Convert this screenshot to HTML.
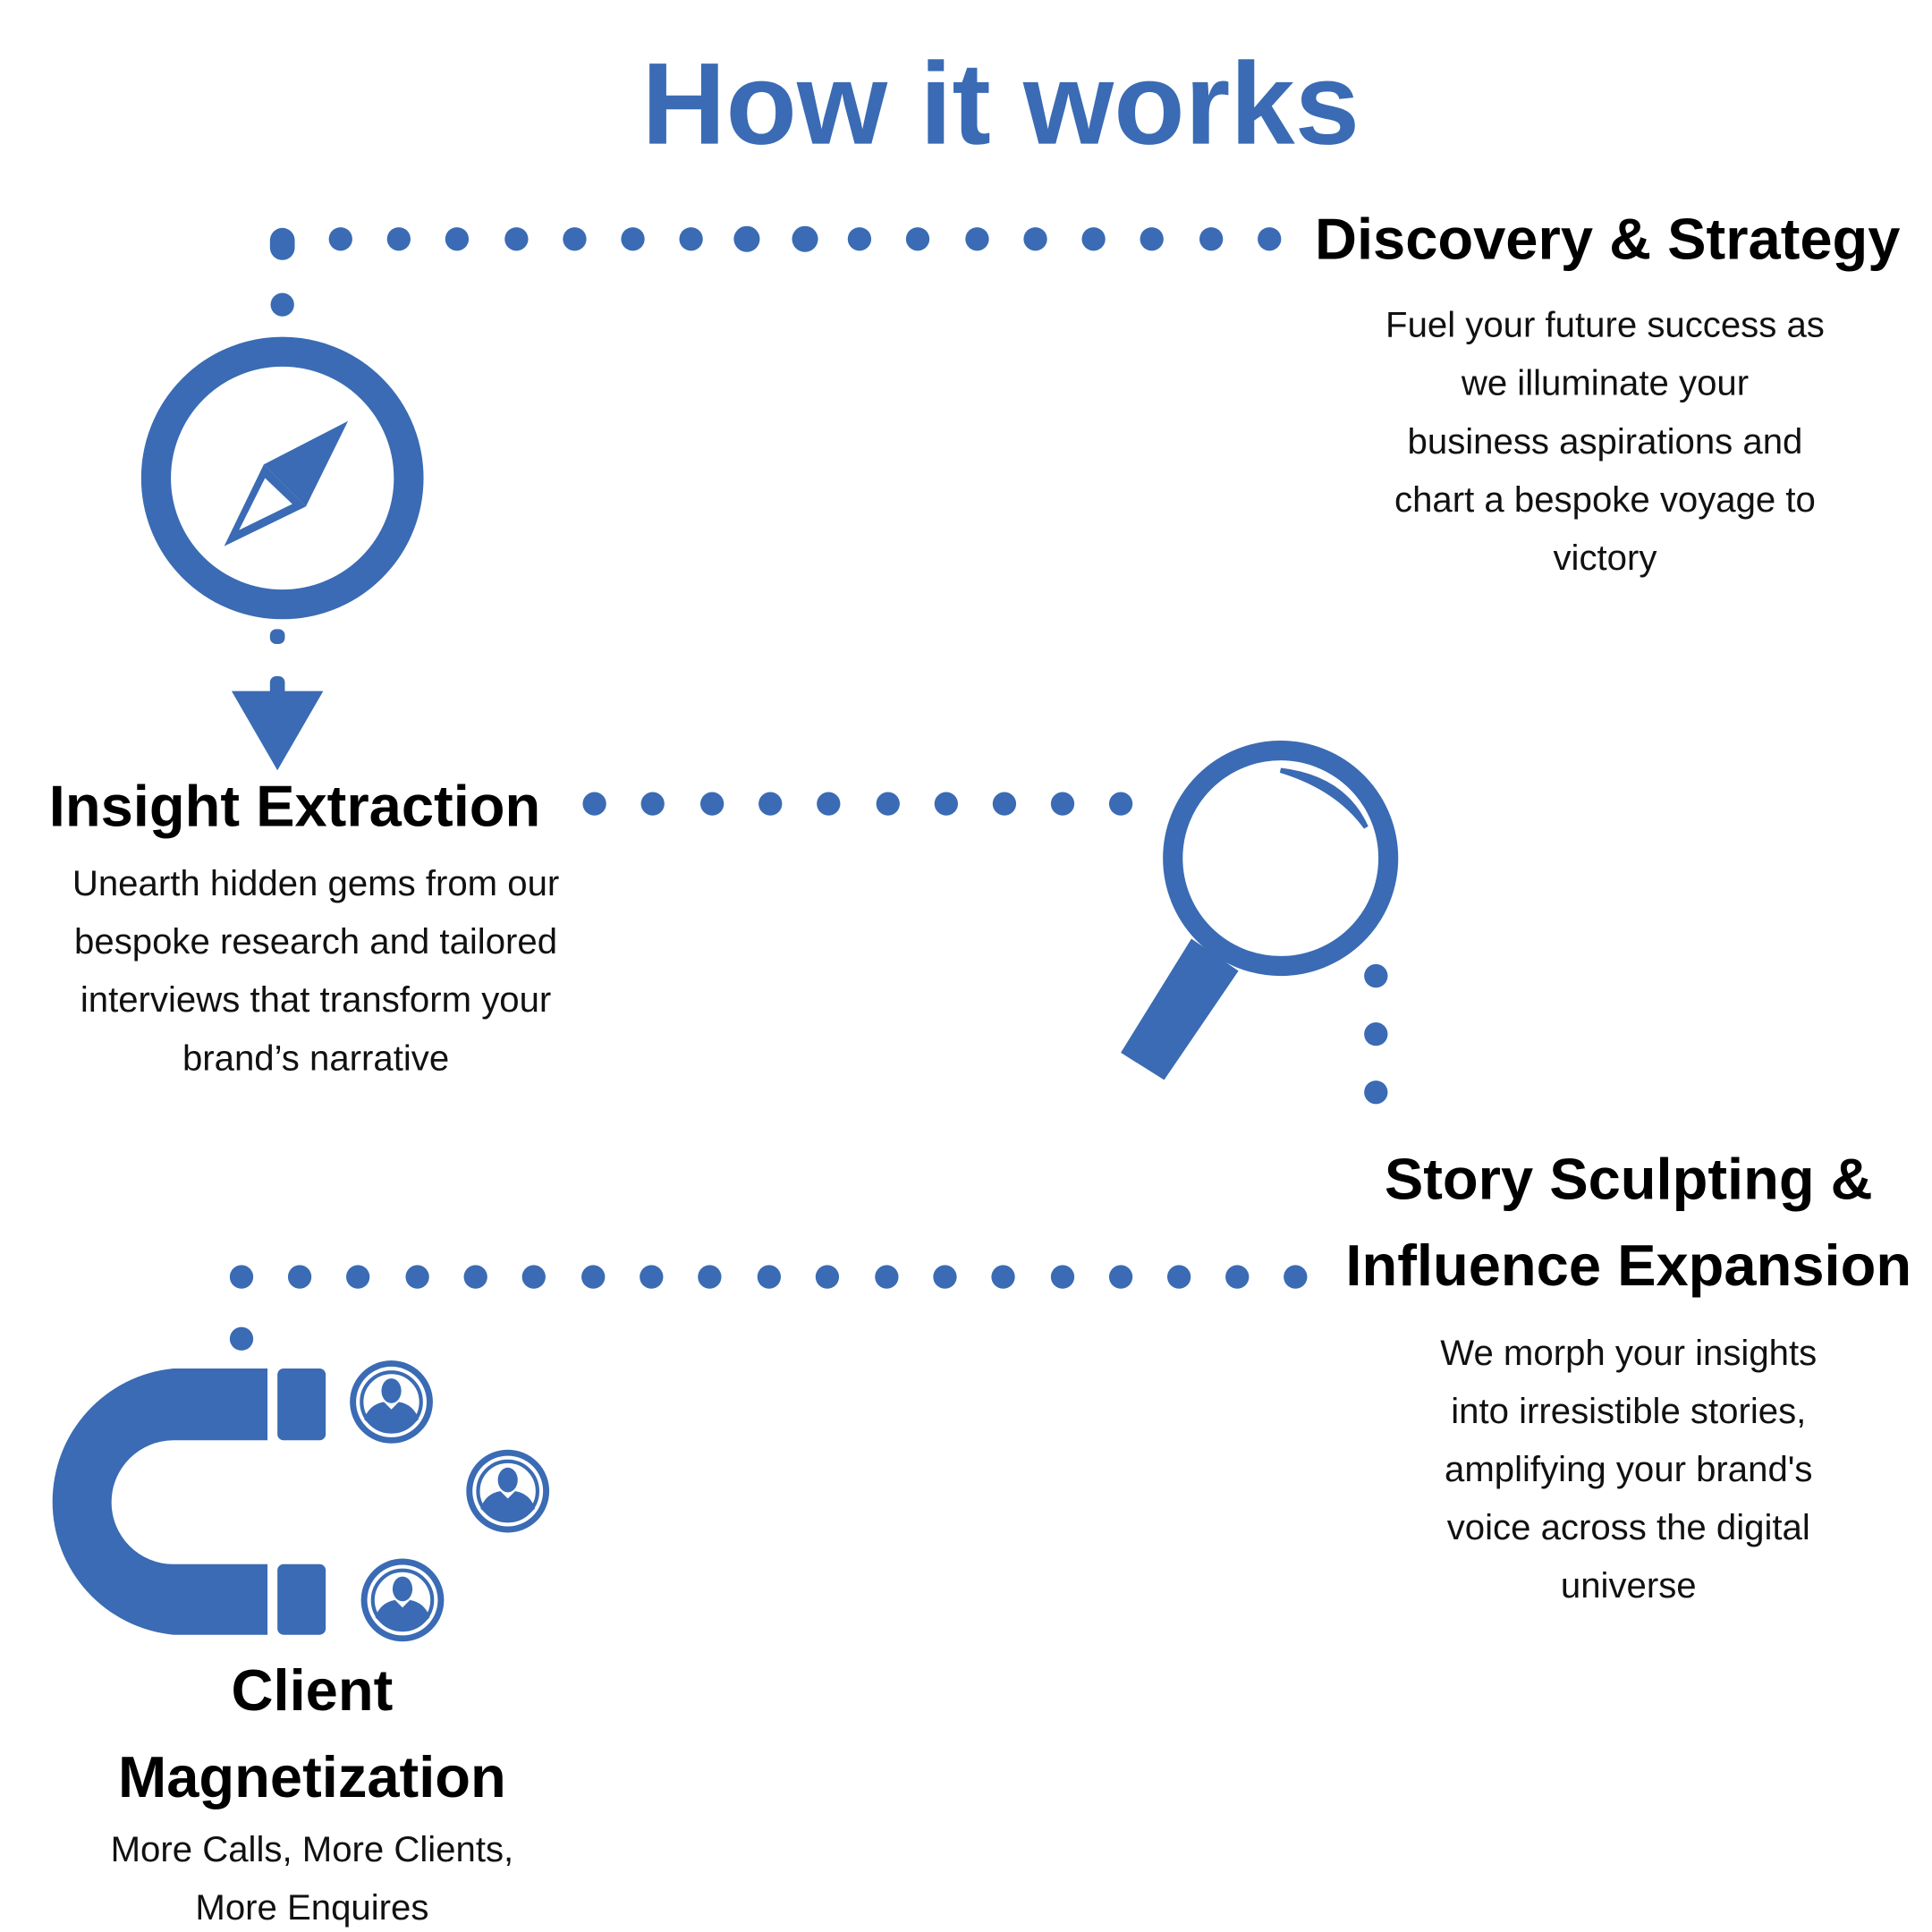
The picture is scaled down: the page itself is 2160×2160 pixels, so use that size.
<!DOCTYPE html>
<html><head><meta charset="utf-8"><style>
html,body{margin:0;padding:0;background:#fff}
svg{display:block}
text{font-family:"Liberation Sans",sans-serif}
.h{font-weight:bold;font-size:47px;fill:#000;text-anchor:middle}
.b{font-size:29px;fill:#111;text-anchor:middle}
</style></head><body>
<svg width="2160" height="2160" viewBox="0 0 1560 1560" xmlns="http://www.w3.org/2000/svg">
<defs>
<g id="p" fill="#3a6bb4">
<circle cx="0" cy="0" r="31" fill="none" stroke="#3a6bb4" stroke-width="5"/>
<circle cx="0" cy="0" r="24" fill="none" stroke="#3a6bb4" stroke-width="3"/>
<ellipse cx="0" cy="-9" rx="8" ry="10"/>
<path d="M-22,14 Q-18,2 -6,0 L0,6 L6,0 Q18,2 22,14 Q12,24 0,24 Q-12,24 -22,14Z"/>
</g>
</defs>
<text x="808" y="116" text-anchor="middle" font-size="94" font-weight="bold" fill="#3a6bb4">How it works</text>
<g fill="#3a6bb4">
<rect x="218" y="184" width="20" height="26" rx="10"/>
<circle cx="275" cy="193" r="9.5"/><circle cx="322" cy="193" r="9.5"/><circle cx="369" cy="193" r="9.5"/><circle cx="417" cy="193" r="9.5"/><circle cx="464" cy="193" r="9.5"/><circle cx="511" cy="193" r="9.5"/><circle cx="558" cy="193" r="9.5"/><circle cx="603" cy="193" r="10.5"/><circle cx="650" cy="193" r="10.5"/><circle cx="694" cy="193" r="9.5"/><circle cx="741" cy="193" r="9.5"/><circle cx="789" cy="193" r="9.5"/><circle cx="836" cy="193" r="9.5"/><circle cx="883" cy="193" r="9.5"/><circle cx="930" cy="193" r="9.5"/><circle cx="978" cy="193" r="9.5"/><circle cx="1025" cy="193" r="9.5"/>
<circle cx="228" cy="246" r="9.5"/>
<rect x="218" y="508" width="12" height="12" rx="5"/>
<rect x="218" y="546" width="12" height="20" rx="5"/>
<polygon points="187,558 261,558 224,622"/>
<circle cx="480" cy="649" r="9.5"/><circle cx="527" cy="649" r="9.5"/><circle cx="575" cy="649" r="9.5"/><circle cx="622" cy="649" r="9.5"/><circle cx="669" cy="649" r="9.5"/><circle cx="717" cy="649" r="9.5"/><circle cx="764" cy="649" r="9.5"/><circle cx="811" cy="649" r="9.5"/><circle cx="858" cy="649" r="9.5"/><circle cx="905" cy="649" r="9.5"/>
<circle cx="1111" cy="788" r="9.5"/><circle cx="1111" cy="835" r="9.5"/><circle cx="1111" cy="882" r="9.5"/>
<circle cx="195" cy="1031" r="9.5"/><circle cx="242" cy="1031" r="9.5"/><circle cx="289" cy="1031" r="9.5"/><circle cx="337" cy="1031" r="9.5"/><circle cx="384" cy="1031" r="9.5"/><circle cx="431" cy="1031" r="9.5"/><circle cx="479" cy="1031" r="9.5"/><circle cx="526" cy="1031" r="9.5"/><circle cx="573" cy="1031" r="9.5"/><circle cx="621" cy="1031" r="9.5"/><circle cx="668" cy="1031" r="9.5"/><circle cx="716" cy="1031" r="9.5"/><circle cx="763" cy="1031" r="9.5"/><circle cx="810" cy="1031" r="9.5"/><circle cx="858" cy="1031" r="9.5"/><circle cx="905" cy="1031" r="9.5"/><circle cx="952" cy="1031" r="9.5"/><circle cx="999" cy="1031" r="9.5"/><circle cx="1046" cy="1031" r="9.5"/>
<circle cx="195" cy="1081" r="9.5"/>
</g>
<circle cx="228" cy="386" r="102" fill="none" stroke="#3a6bb4" stroke-width="24"/>
<polygon points="281,340 213,375 247,409" fill="#3a6bb4"/>
<polygon points="213,375 181,441 247,409" fill="#3a6bb4"/>
<polygon points="214,386 193,428 236,407" fill="#fff"/>
<circle cx="1034" cy="693" r="87" fill="none" stroke="#3a6bb4" stroke-width="16"/>
<path d="M1034,622 Q1085,628 1103,668 Q1080,636 1034,622Z" fill="#3a6bb4" stroke="#3a6bb4" stroke-width="4"/>
<polygon points="962,758 1000,784 940,872 905,850" fill="#3a6bb4"/>
<path d="M216,1105 L140,1105 A108,108 0 0 0 140,1320 L216,1320 L216,1263 L140,1263 A50,50 0 0 1 140,1163 L216,1163 Z" fill="#3a6bb4"/>
<rect x="224" y="1105" width="39" height="58" rx="5" fill="#3a6bb4"/>
<rect x="224" y="1263" width="39" height="57" rx="5" fill="#3a6bb4"/>
<use href="#p" x="316" y="1132"/>
<use href="#p" x="410" y="1204"/>
<use href="#p" x="325" y="1292"/>
<text class="h" x="1298" y="209">Discovery &amp; Strategy</text>
<text class="b" x="1296" y="272">Fuel your future success as</text>
<text class="b" x="1296" y="319">we illuminate your</text>
<text class="b" x="1296" y="366">business aspirations and</text>
<text class="b" x="1296" y="413">chart a bespoke voyage to</text>
<text class="b" x="1296" y="460">victory</text>
<text class="h" x="238" y="667">Insight Extraction</text>
<text class="b" x="255" y="723">Unearth hidden gems from our</text>
<text class="b" x="255" y="770">bespoke research and tailored</text>
<text class="b" x="255" y="817">interviews that transform your</text>
<text class="b" x="255" y="864">brand’s narrative</text>
<text class="h" x="1315" y="968">Story Sculpting &amp;</text>
<text class="h" x="1315" y="1038">Influence Expansion</text>
<text class="b" x="1315" y="1102">We morph your insights</text>
<text class="b" x="1315" y="1149">into irresistible stories,</text>
<text class="b" x="1315" y="1196">amplifying your brand's</text>
<text class="b" x="1315" y="1243">voice across the digital</text>
<text class="b" x="1315" y="1290">universe</text>
<text class="h" x="252" y="1381">Client</text>
<text class="h" x="252" y="1451">Magnetization</text>
<text class="b" x="252" y="1503">More Calls, More Clients,</text>
<text class="b" x="252" y="1550">More Enquires</text>
</svg>
</body></html>
